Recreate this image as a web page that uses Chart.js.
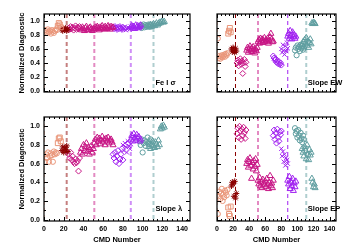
<!DOCTYPE html>
<html>
<head>
<meta charset="utf-8">
<script src="https://cdn.jsdelivr.net/npm/chart.js@4/dist/chart.umd.min.js"></script>
<style>
  body { margin: 0; background: #fff; }
  #wrap { position: relative; width: 350px; height: 250px; }
  #wrap canvas { position: absolute; left: 0; top: 0; }
</style>
</head>
<body>
<div id="wrap">
  <canvas id="tl" width="350" height="250"></canvas>
  <canvas id="tr" width="350" height="250"></canvas>
  <canvas id="bl" width="350" height="250"></canvas>
  <canvas id="br" width="350" height="250"></canvas>
</div>
<script>
// axis ticks
const xTicks = [0, 20, 40, 60, 80, 100, 120, 140];
const yTicks = [0, 0.2, 0.4, 0.6, 0.8, 1.0];
const dividers = [0, 23, 51, 88, 111];

// CMD numbers for each symbol group
const groupCmd = [
  [1, 2, 3, 4, 5, 6, 7, 8, 9, 10, 11, 12, 13],
  [14, 15, 16, 17],
  [18, 19, 20, 21, 22, 23, 24],
  [25, 26, 27, 28, 29, 30, 31, 32, 33, 34, 35, 36],
  [37, 38, 39, 40, 41, 42, 43, 44, 45, 46, 47, 48, 49, 50],
  [51, 52, 53, 54, 55, 56, 57, 58, 59, 60, 61, 62, 63, 64, 65, 66, 67, 68, 69, 70],
  [70, 71, 72, 73, 74, 75, 76, 77, 78, 79, 80],
  [80, 81, 82, 83, 84, 85, 86, 87, 88],
  [88, 89, 90, 91, 92, 93, 94, 95, 96, 97, 98],
  [97, 98, 99, 100, 101, 102, 103, 104, 105, 106, 107, 108],
  [106, 107, 108, 109, 110, 111, 112, 113, 114, 115, 116, 117],
  [118, 119, 120, 121, 122]
];

// normalized diagnostics, one list per group
const feSigma = [
  [0.87, 0.85, 0.83, 0.88, 0.84, 0.86, 0.82, 0.87, 0.85, 0.83, 0.86, 0.88, 0.87],
  [0.93, 0.97, 0.95, 0.91],
  [0.88, 0.86, 0.89, 0.87, 0.90, 0.86, 0.88],
  [0.90, 0.88, 0.92, 0.89, 0.91, 0.87, 0.90, 0.93, 0.88, 0.91, 0.89, 0.92],
  [0.90, 0.87, 0.91, 0.89, 0.86, 0.90, 0.92, 0.88, 0.87, 0.90, 0.91, 0.88, 0.86, 0.89],
  [0.88, 0.91, 0.89, 0.92, 0.90, 0.87, 0.91, 0.89, 0.93, 0.90, 0.88, 0.92, 0.90, 0.89, 0.93, 0.91, 0.88, 0.92, 0.90, 0.91],
  [0.91, 0.89, 0.92, 0.90, 0.88, 0.91, 0.89, 0.92, 0.90, 0.88, 0.91],
  [0.90, 0.88, 0.92, 0.87, 0.89, 0.91, 0.90, 0.88, 0.92],
  [0.91, 0.93, 0.90, 0.92, 0.89, 0.94, 0.91, 0.93, 0.90, 0.92, 0.94],
  [0.92, 0.94, 0.90, 0.93, 0.95, 0.91, 0.94, 0.92, 0.93, 0.95, 0.92, 0.94],
  [0.93, 0.91, 0.95, 0.92, 0.94, 0.96, 0.93, 0.95, 0.97, 0.94, 0.96, 0.98],
  [0.97, 0.99, 1.00, 0.98, 0.99]
];
const slopeEW = [
  [0.75, 0.47, 0.50, 0.46, 0.49, 0.51, 0.48, 0.50, 0.52, 0.49, 0.53, 0.51, 0.54],
  [0.82, 0.86, 0.90, 0.84],
  [0.60, 0.56, 0.62, 0.58, 0.55, 0.61, 0.57],
  [0.40, 0.44, 0.36, 0.42, 0.46, 0.38, 0.43, 0.25, 0.40, 0.45, 0.35, 0.41],
  [0.58, 0.62, 0.55, 0.60, 0.64, 0.57, 0.61, 0.56, 0.63, 0.59, 0.54, 0.60, 0.57, 0.62],
  [0.70, 0.73, 0.68, 0.75, 0.71, 0.74, 0.69, 0.72, 0.76, 0.70, 0.73, 0.71, 0.75, 0.68, 0.72, 0.77, 0.82, 0.74, 0.70, 0.71],
  [0.50, 0.47, 0.44, 0.46, 0.41, 0.43, 0.39, 0.42, 0.38, 0.40, 0.37],
  [0.60, 0.55, 0.66, 0.58, 0.52, 0.64, 0.57, 0.69, 0.61],
  [0.78, 0.82, 0.75, 0.86, 0.79, 0.74, 0.84, 0.77, 0.80, 0.75, 0.78],
  [0.58, 0.62, 0.51, 0.65, 0.60, 0.63, 0.57, 0.66, 0.61, 0.64, 0.59, 0.62],
  [0.66, 0.70, 0.63, 0.73, 0.68, 0.76, 0.65, 0.71, 0.62, 0.69, 0.74, 0.67],
  [0.97, 0.96, 0.98, 0.97, 0.96]
];
const slopeLam = [
  [0.62, 0.70, 0.66, 0.72, 0.62, 0.68, 0.71, 0.69, 0.62, 0.73, 0.70, 0.72, 0.71],
  [0.82, 0.87, 0.88, 0.84],
  [0.74, 0.78, 0.72, 0.77, 0.75, 0.79, 0.73],
  [0.70, 0.66, 0.72, 0.64, 0.68, 0.62, 0.60, 0.65, 0.61, 0.63, 0.52, 0.66],
  [0.72, 0.76, 0.70, 0.80, 0.74, 0.78, 0.82, 0.73, 0.77, 0.70, 0.75, 0.79, 0.72, 0.76],
  [0.82, 0.86, 0.80, 0.88, 0.84, 0.87, 0.81, 0.85, 0.89, 0.83, 0.86, 0.80, 0.87, 0.84, 0.88, 0.82, 0.85, 0.86, 0.83, 0.80],
  [0.70, 0.66, 0.72, 0.62, 0.68, 0.74, 0.60, 0.65, 0.70, 0.76, 0.64],
  [0.80, 0.74, 0.82, 0.78, 0.72, 0.84, 0.79, 0.76, 0.81],
  [0.86, 0.90, 0.84, 0.92, 0.88, 0.85, 0.91, 0.87, 0.89, 0.84, 0.86],
  [0.84, 0.80, 0.86, 0.72, 0.82, 0.85, 0.79, 0.83, 0.88, 0.81, 0.84, 0.86],
  [0.78, 0.82, 0.76, 0.80, 0.84, 0.79, 0.77, 0.83, 0.81, 0.78, 0.85, 0.80],
  [0.97, 1.00, 0.98, 1.01, 0.99]
];
const slopeEP = [
  [0.06, 0.25, 0.30, 0.22, 0.28, 0.33, 0.20, 0.27, 0.24, 0.31, 0.29, 0.26, 0.32],
  [0.13, 0.06, 0.04, 0.14],
  [0.36, 0.40, 0.38, 0.25, 0.41, 0.23, 0.28],
  [0.92, 0.98, 0.88, 1.00, 0.95, 0.86, 0.97, 0.90, 0.99, 0.93, 0.87, 0.96],
  [0.60, 0.64, 0.56, 0.62, 0.66, 0.58, 0.44, 0.61, 0.54, 0.63, 0.57, 0.65, 0.52, 0.59],
  [0.42, 0.38, 0.45, 0.36, 0.40, 0.34, 0.43, 0.39, 0.37, 0.41, 0.35, 0.44, 0.38, 0.33, 0.40, 0.47, 0.36, 0.39, 0.34, 0.42],
  [0.90, 0.96, 0.86, 0.93, 0.82, 0.97, 0.88, 0.84, 0.94, 0.91, 0.95],
  [0.76, 0.68, 0.73, 0.62, 0.70, 0.58, 0.66, 0.64, 0.60],
  [0.42, 0.38, 0.46, 0.33, 0.40, 0.36, 0.44, 0.31, 0.39, 0.35, 0.41],
  [0.98, 0.92, 0.95, 0.88, 0.96, 0.90, 0.85, 0.93, 0.87, 0.83, 0.90, 0.86],
  [0.76, 0.72, 0.68, 0.78, 0.74, 0.65, 0.80, 0.70, 0.64, 0.75, 0.69, 0.72],
  [0.44, 0.40, 0.35, 0.38, 0.34]
];

// styles
const salmon = '#e9967a', darkRed = '#8b0000', pink = '#c71585', purple = '#a020f0', teal = '#5f9ea0';
const groupColor = [salmon, salmon, darkRed, pink, pink, pink, purple, purple, purple, teal, teal, teal];
const groupSymbol = ['circle', 'rect', 'star', 'rectRot', 'triangle', 'triangle', 'rectRot', 'crossRot', 'triangle', 'circle', 'triangle', 'triangle'];
const groupRadius = [2.6, 3.5, 3, 3, 3.5, 3.5, 3, 3, 3.5, 2.6, 3.5, 3.5];
const dividerColors = [salmon, darkRed, pink, purple, teal];

const fontFamily = '"Liberation Sans", Arial, sans-serif';
const tickFont = { family: fontFamily, size: 7, weight: 'bold' };
const titleFont = { family: fontFamily, size: 7.5, weight: 'bold' };

// inward ticks, frame, dashed dividers and the panel label
const idlFrame = {
  id: 'idlFrame',
  beforeDatasetsDraw(chart) {
    const { ctx, chartArea: a, scales: { x } } = chart;
    const opt = chart.options.plugins.idlFrame;
    ctx.save();
    ctx.beginPath();
    ctx.rect(a.left, a.top, a.width, a.height);
    ctx.clip();
    ctx.setLineDash([4, 3]);
    dividers.forEach((d, i) => {
      const px = x.getPixelForValue(d);
      const faint = opt.leftCol || i === 0 || i === 4;
      ctx.globalAlpha = faint ? 0.5 : 1;
      ctx.lineWidth = faint ? 2 : 1;
      ctx.strokeStyle = dividerColors[i];
      ctx.beginPath();
      ctx.moveTo(px, a.top);
      ctx.lineTo(px, a.bottom);
      ctx.stroke();
    });
    ctx.restore();
  },
  afterDatasetsDraw(chart) {
    const { ctx, chartArea: a, scales: { x, y } } = chart;
    const opt = chart.options.plugins.idlFrame;
    ctx.save();
    ctx.strokeStyle = '#000';
    ctx.lineWidth = 1;
    ctx.beginPath();
    for (let v = 0; v <= 145; v += 5) {
      const px = Math.round(x.getPixelForValue(v)) + 0.5;
      const len = xTicks.includes(v) ? 4 : 2;
      ctx.moveTo(px, a.bottom); ctx.lineTo(px, a.bottom - len);
      ctx.moveTo(px, a.top); ctx.lineTo(px, a.top + len);
    }
    for (let k = 0; k <= 10; k++) {
      const v = k / 10;
      const py = Math.round(y.getPixelForValue(v)) + 0.5;
      const len = k % 2 === 0 ? 4 : 2;
      ctx.moveTo(a.left, py); ctx.lineTo(a.left + len, py);
      ctx.moveTo(a.right, py); ctx.lineTo(a.right - len, py);
    }
    ctx.stroke();
    ctx.lineWidth = 1.2;
    ctx.strokeRect(a.left, a.top, a.width, a.height);
    ctx.fillStyle = '#000';
    ctx.font = 'bold 7.5px ' + fontFamily;
    ctx.textAlign = 'left';
    ctx.textBaseline = 'middle';
    ctx.fillText(opt.label, x.getPixelForValue(113), y.getPixelForValue(0.11));
    ctx.restore();
  }
};

function makePanel(id, label, vals, leftCol, bottomRow) {
  const datasets = groupCmd.map((xs, g) => ({
    data: xs.map((cmd, i) => ({ x: cmd, y: vals[g][i] })),
    pointStyle: groupSymbol[g],
    pointRadius: groupRadius[g],
    borderColor: groupColor[g],
    backgroundColor: 'rgba(0,0,0,0)',
    borderWidth: 1
  }));

  return new Chart(document.getElementById(id), {
    type: 'scatter',
    data: { datasets: datasets },
    options: {
      responsive: false,
      animation: false,
      events: [],
      layout: {
        padding: {
          left: leftCol ? 17 : 190,
          right: leftCol ? 160 : 14,
          top: bottomRow ? 117 : 14,
          bottom: bottomRow ? 4 : 133
        }
      },
      plugins: {
        legend: { display: false },
        tooltip: { enabled: false },
        idlFrame: { label: label, leftCol: leftCol }
      },
      scales: {
        x: {
          type: 'linear',
          min: 0,
          max: 148,
          display: bottomRow,
          afterBuildTicks: s => { s.ticks = xTicks.map(v => ({ value: v })); },
          afterFit: s => { s.height = 25; },
          grid: { display: false, drawTicks: false },
          border: { display: false },
          ticks: { color: '#000', font: tickFont, padding: 4, maxRotation: 0, autoSkip: false },
          title: { display: true, text: 'CMD Number', color: '#000', font: titleFont, padding: { top: 0, bottom: 2 } }
        },
        y: {
          type: 'linear',
          min: -0.015,
          max: 1.1,
          display: leftCol,
          afterBuildTicks: s => { s.ticks = yTicks.map(v => ({ value: v })); },
          afterFit: s => { s.width = 27; },
          grid: { display: false, drawTicks: false },
          border: { display: false },
          ticks: { color: '#000', font: tickFont, padding: 4, callback: v => Number(v).toFixed(1) },
          title: { display: true, text: 'Normalized Diagnostic', color: '#000', font: titleFont, padding: 0 }
        }
      }
    },
    plugins: [idlFrame]
  });
}

makePanel('tl', 'Fe I \u03c3', feSigma, true, false);
makePanel('tr', 'Slope EW', slopeEW, false, false);
makePanel('bl', 'Slope \u03bb', slopeLam, true, true);
makePanel('br', 'Slope EP', slopeEP, false, true);
</script>
</body>
</html>
